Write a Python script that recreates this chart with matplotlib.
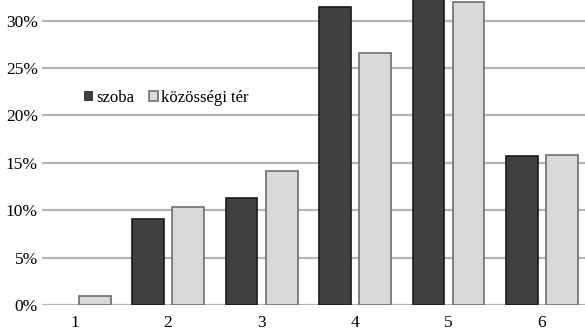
import matplotlib.pyplot as plt
import numpy as np

# data
kategoriak = ["1", "2", "3", "4", "5", "6"]
szoba = [0.0, 9.1, 11.3, 31.4, 32.6, 15.7]
kozossegi = [0.95, 10.3, 14.1, 26.6, 32.0, 15.8]
yticks = [0, 5, 10, 15, 20, 25, 30]

plt.rcParams['font.family'] = ['Liberation Serif', 'DejaVu Serif']

fig = plt.figure(figsize=(5.85, 3.31), dpi=100)
ax = fig.add_axes([42/585, 26/331, 1 - 42/585, 1 - 26/331])

x = np.arange(1, len(kategoriak) + 1)
w = 0.342
off = 0.214

b1 = ax.bar(x - off, szoba, w, color='#404040', edgecolor='#1a1a1a', linewidth=1.2,
            label='szoba', zorder=3)
b2 = ax.bar(x + off, kozossegi, w, color='#d9d9d9', edgecolor='#6e6e6e', linewidth=1.2,
            label='közösségi tér', zorder=3)
# zero-height bars should not leave an outline on the axis
for bars, vals in ((b1, szoba), (b2, kozossegi)):
    for b, v in zip(bars, vals):
        if v == 0:
            b.set_linewidth(0)

ax.set_xlim(0.652, 6.46)
ax.set_ylim(0, 32.18)
ax.set_yticks(yticks)
ax.set_yticklabels([f"{v}%" for v in yticks])
ax.set_xticks(x)
ax.set_xticklabels(kategoriak)
ax.tick_params(length=0, labelsize=12.5)
ax.tick_params(axis='y', pad=3)
ax.tick_params(axis='x', pad=7)

ax.yaxis.grid(True, color='#b4b4b4', linewidth=1.6)
ax.set_axisbelow(True)
for s in ax.spines.values():
    s.set_visible(False)

ax.legend(handles=[b1, b2], loc='upper left', bbox_to_anchor=(0.0656, 0.728), ncol=2,
          frameon=False, fontsize=12, handlelength=0.55, handleheight=0.55,
          handletextpad=0.15, columnspacing=0.9, borderaxespad=0)

fig.savefig('out.png', dpi=100)
